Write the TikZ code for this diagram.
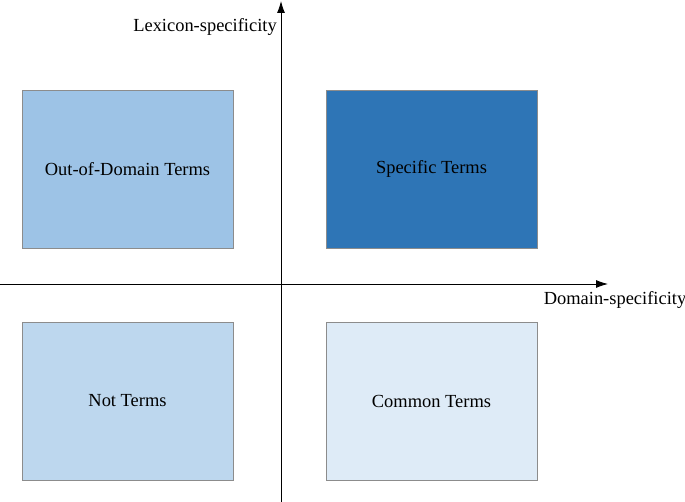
\documentclass[tikz,border=0pt]{standalone}
\usepackage{fontspec}
\setmainfont{Liberation Serif}
\usetikzlibrary{positioning,arrows.meta}
\definecolor{qOut}{HTML}{9DC3E6}
\definecolor{qSpec}{HTML}{2E75B6}
\definecolor{qNot}{HTML}{BDD7EE}
\definecolor{qCommon}{HTML}{DEEBF7}
\tikzset{
  quad/.style={draw=black!45, line width=0.4pt, minimum width=4.22cm, minimum height=3.16cm, font=\fontsize{10.5}{12}\selectfont},
  axis/.style={-{Latex[length=2.4mm,width=1.6mm]}, line width=0.5pt}
}
\begin{document}
\begin{tikzpicture}[x=0.02cm,y=-0.02cm]
    \useasboundingbox (0,0) rectangle (685,502);
    % quadrants
    \node[quad, fill=qOut] (outdom) at (127.5,169) {Out-of-Domain Terms};
    \node[quad, fill=qSpec] (specific) at (431.5,169) {Specific Terms};
    \node[quad, fill=qNot] (notterm) at (127.5,401) {Not Terms};
    \node[quad, fill=qCommon] (common) at (431.5,401) {Common Terms};
    % axes
    \coordinate (ybot) at (281,502);
    \coordinate (ytop) at (281,1);
    \coordinate (xleft) at (0,284);
    \coordinate (xright) at (608,284);
    \draw[axis] (ybot) -- (ytop);
    \draw[axis] (xleft) -- (xright);
    \node[font=\fontsize{10.5}{12}\selectfont] (ylab) at (205,27) {Lexicon-specificity};
    \node[font=\fontsize{10.5}{12}\selectfont] (xlab) at (615,300) {Domain-specificity};
\end{tikzpicture}
\end{document}
